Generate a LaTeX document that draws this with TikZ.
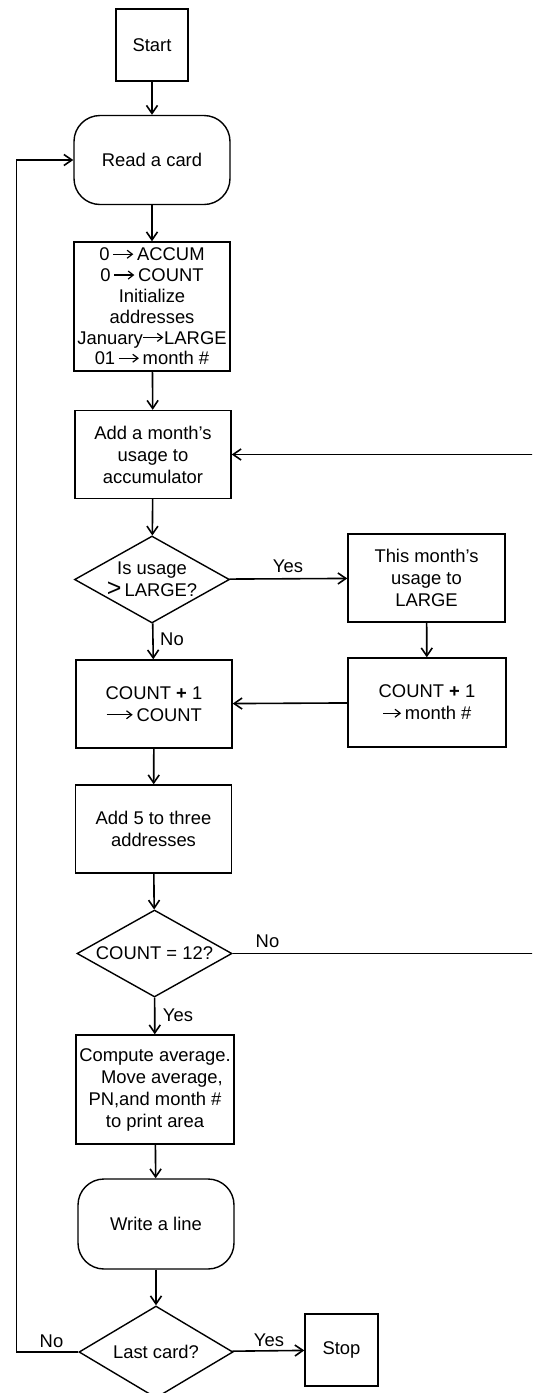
\documentclass[tikz,border=0pt]{standalone}
\usepackage{fontspec}
\setmainfont{Liberation Sans}
\usetikzlibrary{arrows.meta,shapes.geometric}
\newcommand\figfont{\fontsize{9.2}{11}\selectfont}
\newcommand\tightfont{\fontsize{9.2}{10.4}\selectfont}
% in-text assignment arrow of a given length
\newcommand\assign[1]{\tikz[baseline=0pt]{\draw[line width=0.6pt,-{Straight Barb[length=2.6pt,width=4pt]}] (0pt,3.3pt) -- (#1,3.3pt);}}
\newcommand\gtsign{{\fontsize{12.5}{11}\selectfont >}}
\tikzset{
  base/.style={draw, line width=0.7pt, font=\figfont, align=center, inner sep=0pt},
  proc/.style={base, rectangle, minimum width=78pt, minimum height=44pt},
  term/.style={base, rectangle, rounded corners=13pt, minimum width=78pt, minimum height=44.5pt},
  decision/.style={base, diamond, aspect=1.8, minimum width=77.5pt, minimum height=43.5pt},
  endbox/.style={base, rectangle, minimum width=36pt, minimum height=36pt},
  flow/.style={line width=0.8pt, -{Straight Barb[length=4pt,width=5.5pt]}},
  link/.style={line width=0.8pt},
  lbl/.style={font=\figfont, inner sep=0pt}
}
\begin{document}
\begin{tikzpicture}[x=0.5pt, y=-0.5pt]
  \clip (0,0) rectangle (532,1393);
  \fill[white] (0,0) rectangle (532,1393);

  % main column
  \node[endbox] (start) at (152,45) {Start};
  \node[term] (read) at (152,160) {Read a card};
  \node[proc, minimum height=64.5pt, font=\tightfont] (init) at (152,306.5)
    {0\,\assign{10pt}\,ACCUM\\0\,\assign{10pt}\,COUNT\\Initialize\\addresses\\January\assign{10pt}LARGE\\01\,\assign{10pt}\,month \#};
  \node[proc] (add) at (153,454.5) {Add a month’s\\usage to\\accumulator};
  \node[decision] (d1) at (152,579.5) {Is usage\\\gtsign\,LARGE?};
  \node[proc] (cnt) at (154,704) {COUNT \textbf{+} 1\\\assign{13pt}\,COUNT};
  \node[proc] (add5) at (153.5,829) {Add 5 to three\\addresses};
  \node[decision] (d2) at (154.5,953.5) {COUNT = 12?};
  \node[proc, minimum width=79pt, minimum height=54.5pt] (comp) at (155,1089.5)
    {Compute average.\\\hspace*{7pt}Move average,\\PN,and month \#\\to print area};
  \node[term, minimum height=45pt] (write) at (156,1224) {Write a line};
  \node[decision, minimum width=77pt, minimum height=46pt] (d3) at (156,1352) {Last card?};

  % right column
  \node[proc, minimum width=78.5pt] (this) at (426.5,578) {This month’s\\usage to\\LARGE};
  \node[proc, minimum width=79pt, minimum height=44.5pt] (mon) at (427,702.5) {COUNT \textbf{+} 1\\\assign{9pt}\,month \#};
  \node[endbox, minimum width=36.5pt] (stop) at (341.5,1350) {Stop};

  % free ends of the connectors
  \coordinate (edgeA) at (533,454.5);
  \coordinate (edgeB) at (533,953.5);
  \coordinate (loop) at (16.5,1352);

  % vertical flow
  \draw[flow] (start) -- (read);
  \draw[flow] (read) -- (init);
  \draw[flow] (init) -- (add);
  \draw[flow] (add) -- (d1);
  \draw[flow] (d1) -- (cnt);
  \draw[flow] (cnt) -- (add5);
  \draw[flow] (add5) -- (d2);
  \draw[flow] (d2) -- (comp);
  \draw[flow] (comp) -- (write);
  \draw[flow] (write) -- (d3);

  % branches
  \draw[flow] (d1) -- (this);
  \draw[flow] (this) -- (mon);
  \draw[flow] (mon) -- (cnt);
  \draw[link] (d2) -- (edgeB);
  \draw[flow] (edgeA) -- (add);
  \draw[flow] (d3) -- (stop);
  \draw[flow] (d3) -- (loop) |- (read);

  % branch labels
  \node[lbl] (l1) at (288,566) {Yes};
  \node[lbl] (l2) at (172,639.5) {No};
  \node[lbl] (l3) at (267.5,941) {No};
  \node[lbl] (l4) at (178,1015) {Yes};
  \node[lbl] (l5) at (51.5,1341) {No};
  \node[lbl] (l6) at (269,1340) {Yes};
\end{tikzpicture}
\end{document}
